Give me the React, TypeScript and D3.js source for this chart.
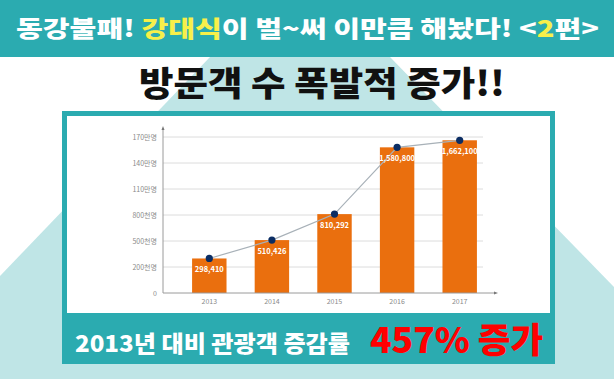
import React from "react";
import * as d3 from "d3";

const years = ["2013", "2014", "2015", "2016", "2017"];
const visitors = [298410, 510426, 810292, 1580800, 1662100];
const valueLabels = ["298,410", "510,426", "810,292", "1,580,800", "1,662,100"];
const tickValues = [0, 200000, 500000, 800000, 1100000, 1400000, 1700000];
const tickLabels = ["0", "200천명", "500천명", "800천명", "110만명", "140만명", "170만명"];

const TEAL = "#2babb0";
const LIGHT = "#bfe5e6";
const ORANGE = "#ea6f0e";
const KR = "'Noto Sans CJK KR', 'Noto Sans', sans-serif";

export default function App() {
  const W = 614, H = 379;
  const x0 = 163, yBase = 293;
  const step = 26;
  const y = d3
    .scaleLinear()
    .domain(tickValues)
    .range(tickValues.map((_, i) => yBase - i * step));
  const x = d3.scaleBand().domain(years).range([178, 491]).paddingInner(0.45).paddingOuter(0.225);
  const bw = x.bandwidth();
  const pts: [number, number][] = years.map((yr, i) => [(x(yr) as number) + bw / 2, y(visitors[i])]);
  const line = d3.line()(pts) as string;

  const bg = d3.path();
  bg.moveTo(210, 57);
  bg.lineTo(390, 57);
  bg.lineTo(614, 287);
  bg.lineTo(614, 379);
  bg.lineTo(0, 379);
  bg.lineTo(0, 276);
  bg.closePath();

  return (
    <svg width={W} height={H} style={{ position: "absolute", left: 0, top: 0 }} xmlns="http://www.w3.org/2000/svg">
      <rect x={0} y={0} width={W} height={H} fill="#ffffff" />
      <path d={bg.toString()} fill={LIGHT} />
      {/* top banner */}
      <rect x={0} y={0} width={W} height={57} fill={TEAL} />
      <text x={16} y={37} fontFamily={KR} fontWeight={900} fontSize={23} fill="#ffffff" textLength={583} lengthAdjust="spacingAndGlyphs">
        <tspan>동강불패! </tspan>
        <tspan fill="#f7f04a">강대식</tspan>
        <tspan>이 벌~써 이만큼 해놨다! &lt;</tspan>
        <tspan fill="#f7f04a">2</tspan>
        <tspan>편&gt;</tspan>
      </text>
      <text x={139} y={96} fontFamily={KR} fontWeight={900} fontSize={34} fill="#111111" textLength={366} lengthAdjust="spacingAndGlyphs">
        방문객 수 폭발적 증가!!
      </text>
      {/* chart box */}
      <rect x={62} y={111} width={493} height={253} fill={TEAL} />
      <rect x={67} y={116} width={483} height={197} fill="#ffffff" />
      {/* grid */}
      {tickValues.slice(1).map((v, i) => (
        <line key={"g" + i} x1={x0} x2={483} y1={y(v)} y2={y(v)} stroke="#dcdcdc" strokeWidth={1} />
      ))}
      {tickValues.map((v, i) => (
        <text key={"t" + i} x={157} y={y(v) + 2.5} textAnchor="end" fontFamily={KR} fontSize={7} fill="#8a8a8a">
          {tickLabels[i]}
        </text>
      ))}
      {/* bars */}
      {years.map((yr, i) => (
        <rect key={"b" + yr} x={x(yr)} y={y(visitors[i])} width={bw} height={yBase - y(visitors[i])} fill={ORANGE} />
      ))}
      {/* axes */}
      <line x1={x0} x2={x0} y1={yBase} y2={128} stroke="#9a9a9a" strokeWidth={1} />
      <path d={`M${x0 - 1.5},130 L${x0},126 L${x0 + 1.5},130 Z`} fill="#777" />
      <line x1={x0} x2={495} y1={yBase} y2={yBase} stroke="#9a9a9a" strokeWidth={1} />
      <path d={`M494,${yBase - 1.5} L498,${yBase} L494,${yBase + 1.5} Z`} fill="#777" />
      {years.map((yr) => (
        <text key={"x" + yr} x={(x(yr) as number) + bw / 2} y={304} textAnchor="middle" fontFamily={KR} fontSize={7} fill="#8a8a8a">
          {yr}
        </text>
      ))}
      {/* line + dots */}
      <path d={line} fill="none" stroke="#a8b1b8" strokeWidth={1.2} />
      {pts.map((p, i) => (
        <circle key={"c" + i} cx={p[0]} cy={p[1]} r={3.6} fill="#0b2d63" />
      ))}
      {pts.map((p, i) => (
        <text key={"v" + i} x={p[0]} y={p[1] + 14} textAnchor="middle" fontFamily={KR} fontWeight={700} fontSize={7.5} fill="#ffffff">
          {valueLabels[i]}
        </text>
      ))}
      {/* bottom band text */}
      <text x={75} y={352} fontFamily={KR} fontWeight={900} fontSize={23} fill="#ffffff" textLength={275} lengthAdjust="spacingAndGlyphs">
        2013년 대비 관광객 증감률
      </text>
      <text x={370} y={353} fontFamily={KR} fontWeight={900} fontSize={35} fill="#ff0000" textLength={173} lengthAdjust="spacingAndGlyphs">
        457% 증가
      </text>
    </svg>
  );
}
